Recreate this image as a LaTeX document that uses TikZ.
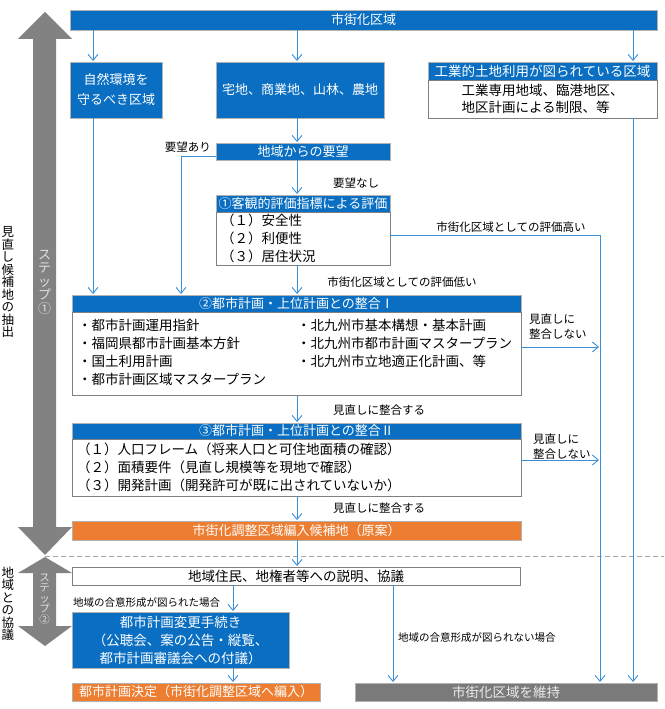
\documentclass[tikz,border=0pt]{standalone}
\usepackage{fontspec}
\setmainfont{Noto Sans CJK JP}
\usetikzlibrary{arrows.meta,positioning,calc}
\definecolor{cityblue}{HTML}{0A6FC2}
\definecolor{linkblue}{HTML}{3A8FD9}
\definecolor{candorange}{HTML}{ED7D31}
\definecolor{keepgray}{HTML}{7A7A7A}
\definecolor{stepgray}{HTML}{828282}

\begin{document}
\begin{tikzpicture}[x=1pt,y=-1pt,
      box/.style={inner sep=1pt,outer sep=0pt,line width=0.6pt,anchor=north west,
                  font=\fontsize{13}{18}\selectfont,align=center},
      bluebox/.style={box,draw=gray!60,fill=cityblue,text=white},
      bodybox/.style={box,draw=gray,fill=white,align=left,inner xsep=5pt,font=\fontsize{13.5}{18}\selectfont},
      orangebox/.style={box,draw=gray!60,fill=candorange,text=white},
      keepbox/.style={box,draw=gray!60,fill=keepgray,text=white!92!black},
      arr/.style={-{Straight Barb[length=6pt,width=10pt]},linkblue,line width=0.9pt,shorten >=1pt},
      note/.style={font=\fontsize{11.5}{15}\selectfont,align=left,inner sep=0pt},
      smallnote/.style={font=\fontsize{10.5}{12}\selectfont,inner sep=0pt},
      sidetext/.style={font=\fontsize{12.5}{12.5}\selectfont,align=center,inner sep=0pt},
      steptext/.style={font=\fontsize{13}{13.5}\selectfont,align=center,inner sep=0pt,text=gray!25}]
    \useasboundingbox (0,0) rectangle (664,709);
    % columns of the connectors
    \coordinate (colA) at (93,0);
    \coordinate (colB) at (181,0);
    \coordinate (colC) at (233,0);
    \coordinate (colD) at (393,0);
    \coordinate (colM) at (297,0);
    \coordinate (colR) at (600,0);
    \coordinate (colS) at (633,0);

    \fill[stepgray] (45,12) -- (72,39) -- (56,39) -- (56,527) -- (72,527) -- (45,555)
                    -- (18,527) -- (33,527) -- (33,39) -- (18,39) -- cycle;
    \fill[stepgray] (45,557) -- (72,573) -- (56,573) -- (56,626) -- (72,626) -- (45,646)
                    -- (18,626) -- (33,626) -- (33,573) -- (18,573) -- cycle;
    \node[steptext] (stepOne) at (44.5,282) {ス\\テ\\ッ\\プ\\①};
    \node[steptext,font=\fontsize{10.5}{10.5}\selectfont] (stepTwo) at (44.5,599) {ス\\テ\\ッ\\プ\\②};
    \node[sidetext] (sideOne) at (8,282) {見\\直\\し\\候\\補\\地\\の\\抽\\出};
    \node[sidetext] (sideTwo) at (8,604) {地\\域\\と\\の\\協\\議};
    \draw[gray!70,line width=0.8pt,dash pattern=on 5pt off 3pt] (45,556) -- (664,556);

    \node[bluebox,minimum width=587pt,minimum height=20pt] (city) at (70,10) {市街化区域};
    \node[bluebox,minimum width=92pt,minimum height=56pt,font=\fontsize{13}{20}\selectfont] (nat) at (70,62) {自然環境を\\守るべき区域};
    \node[bluebox,minimum width=168pt,minimum height=56pt] (res) at (216,62) {宅地、商業地、山林、農地};
    \node[bluebox,minimum width=229pt,minimum height=18pt,font=\fontsize{13.5}{18}\selectfont] (indh) at (428,62) {工業的土地利用が図られている区域};
    \node[bodybox,minimum width=229pt,minimum height=38pt,align=left,font=\fontsize{13.5}{17}\selectfont] (indb) at (indh.south west) {工業専用地域、臨港地区、\\地区計画による制限、等};
    \node[bluebox,minimum width=174pt,minimum height=17pt] (req) at (216,143) {地域からの要望};
    \node[bluebox,minimum width=174pt,minimum height=17pt] (c1h) at (216,195) {①客観的評価指標による評価};
    \node[bodybox,text width=164pt,minimum height=53pt] (c1b) at (c1h.south west) {（１）安全性\\（２）利便性\\（３）居住状況};
    \node[bluebox,minimum width=449pt,minimum height=17pt] (c2h) at (72,295) {②都市計画・上位計画との整合Ⅰ};
    \node[bodybox,text width=437pt,inner xsep=6pt,minimum height=83pt] (c2b) at (c2h.south west)
      {\begin{tabular}{@{}p{219pt}@{}l@{}}
        ・都市計画運用指針 & ・北九州市基本構想・基本計画\\
        ・福岡県都市計画基本方針 & ・北九州市都市計画マスタープラン\\
        ・国土利用計画 & ・北九州市立地適正化計画、等\\
        ・都市計画区域マスタープラン &
       \end{tabular}};
    \node[bluebox,minimum width=449pt,minimum height=16pt] (c3h) at (72,423) {③都市計画・上位計画との整合Ⅱ};
    \node[bodybox,text width=439pt,minimum height=57pt] (c3b) at (c3h.south west)
      {（１）人口フレーム（将来人口と可住地面積の確認）\\（２）面積要件（見直し規模等を現地で確認）\\（３）開発計画（開発許可が既に出されていないか）};
    \node[orangebox,minimum width=449pt,minimum height=19pt] (cand) at (72,521) {市街化調整区域編入候補地（原案）};
    \node[box,draw=gray,fill=white,minimum width=448pt,minimum height=18pt,font=\fontsize{13.5}{18}\selectfont] (pub) at (72,567) {地域住民、地権者等への説明、協議};
    \node[bluebox,minimum width=217pt,minimum height=56pt,font=\fontsize{13.5}{18}\selectfont] (chg) at (72,612) {都市計画変更手続き\\（公聴会、案の公告・縦覧、\\都市計画審議会への付議）};
    \node[orangebox,minimum width=248pt,minimum height=18pt] (dec) at (72,683) {都市計画決定（市街化調整区域へ編入）};
    \node[keepbox,minimum width=302pt,minimum height=18pt,font=\fontsize{13.5}{18}\selectfont] (keep) at (355,683) {市街化区域を維持};

    \draw[arr] (city.south -| colA) -- (nat.north -| colA);
    \draw[arr] (city.south -| colM) -- (res.north -| colM);
    \draw[arr] (city.south -| colS) -- (indh.north -| colS);
    \draw[arr] (nat.south -| colA) -- (c2h.north -| colA);
    \draw[arr] (res.south -| colM) -- (req.north -| colM);
    \draw[arr] ([yshift=-5pt]req.west) -| (c2h.north -| colB);
    \draw[arr] (req.south -| colM) -- (c1h.north -| colM);
    \draw[arr] ([yshift=3.5pt]c1b.east) -| (keep.north -| colR);
    \draw[arr] (c1b.south -| colM) -- (c2h.north -| colM);
    \draw[arr] ([yshift=6.5pt]c2b.east) -- ([yshift=6.5pt]c2b.east -| colR);
    \draw[arr] (c2b.south -| colM) -- (c3h.north -| colM);
    \draw[arr] ([yshift=7.5pt]c3b.east) -- ([yshift=7.5pt]c3b.east -| colR);
    \draw[arr] (c3b.south -| colM) -- (cand.north -| colM);
    \draw[arr] (cand.south -| colM) -- (pub.north -| colM);
    \draw[arr] (pub.south -| colC) -- (chg.north -| colC);
    \draw[arr] (chg.south -| colC) -- (dec.north -| colC);
    \draw[arr] (pub.south -| colD) -- (keep.north -| colD);
    \draw[arr] (indb.south -| colS) -- (keep.north -| colS);

    \node[note,anchor=east] (lblAri) at (211,147) {要望あり};
    \node[note] (lblNashi) at (356,183) {要望なし};
    \node[note] (lblHigh) at (511,227) {市街化区域としての評価高い};
    \node[note] (lblLow) at (402,282) {市街化区域としての評価低い};
    \node[note,anchor=west] (lblNgOne) at (529,327) {見直しに\\整合しない};
    \node[note,anchor=west] (lblNgTwo) at (533,447) {見直しに\\整合しない};
    \node[note] (lblOkOne) at (379,410) {見直しに整合する};
    \node[note] (lblOkTwo) at (379,508) {見直しに整合する};
    \node[smallnote,anchor=west] (lblAgree) at (73,603) {地域の合意形成が図られた場合};
    \node[smallnote,anchor=west] (lblNoAgree) at (398,638) {地域の合意形成が図られない場合};
  \end{tikzpicture}
\end{document}
